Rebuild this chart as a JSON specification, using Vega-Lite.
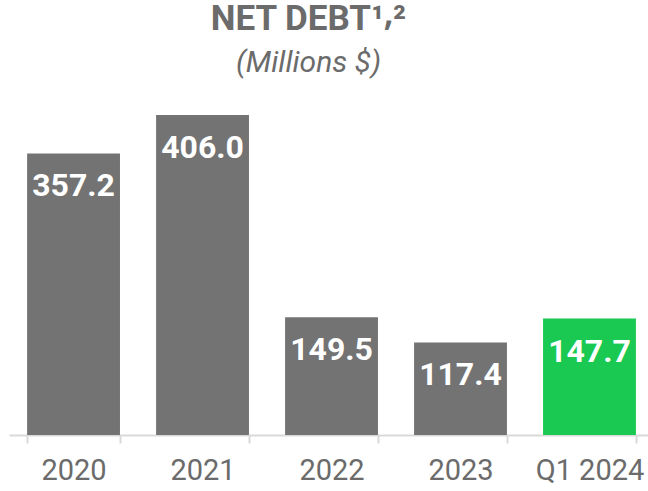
{
  "$schema": "https://vega.github.io/schema/vega-lite/v6.json",
  "width": 639,
  "height": 335,
  "autosize": {"type": "none"},
  "padding": {"left": 9, "top": 100, "right": 0, "bottom": 56},
  "background": "white",
  "title": {
    "text": "NET DEBT¹⸴²",
    "subtitle": "(Millions $)",
    "font": "Roboto",
    "fontSize": 35,
    "fontWeight": "bold",
    "color": "#6b6b6b",
    "subtitleFont": "Roboto",
    "subtitleFontSize": 30,
    "subtitleFontStyle": "italic",
    "subtitleColor": "#6b6b6b",
    "subtitlePadding": 11,
    "anchor": "middle",
    "dx": -20,
    "offset": 22
  },
  "data": {
    "values": [
      {"period": "2020", "debt": 357.2, "highlight": "no"},
      {"period": "2021", "debt": 406.0, "highlight": "no"},
      {"period": "2022", "debt": 149.5, "highlight": "no"},
      {"period": "2023", "debt": 117.4, "highlight": "no"},
      {"period": "Q1 2024", "debt": 147.7, "highlight": "yes"}
    ]
  },
  "encoding": {
    "x": {
      "field": "period",
      "type": "nominal",
      "sort": null,
      "scale": {"paddingInner": 0.28, "paddingOuter": 0.117, "align": 0.6},
      "axis": {
        "title": null,
        "labelAngle": 0,
        "labelFont": "Roboto",
        "labelFontSize": 29,
        "labelColor": "#6b6b6b",
        "labelPadding": 13,
        "domainColor": "#d9d9d9",
        "domainWidth": 2,
        "tickColor": "#d9d9d9",
        "tickWidth": 2,
        "tickSize": 8,
        "tickBand": "extent",
        "grid": false
      }
    },
    "y": {
      "field": "debt",
      "type": "quantitative",
      "scale": {"domain": [0, 425], "nice": false},
      "axis": null
    }
  },
  "layer": [
    {
      "mark": {"type": "bar"},
      "encoding": {
        "color": {
          "field": "highlight",
          "type": "nominal",
          "scale": {"domain": ["no", "yes"], "range": ["#737373", "#19C951"]},
          "legend": null
        }
      }
    },
    {
      "mark": {
        "type": "text",
        "baseline": "top",
        "dy": 18,
        "font": "Roboto",
        "fontSize": 32,
        "fontWeight": "bold",
        "color": "white"
      },
      "encoding": {
        "text": {"field": "debt", "type": "quantitative", "format": ".1f"}
      }
    }
  ],
  "config": {"view": {"stroke": null}}
}
